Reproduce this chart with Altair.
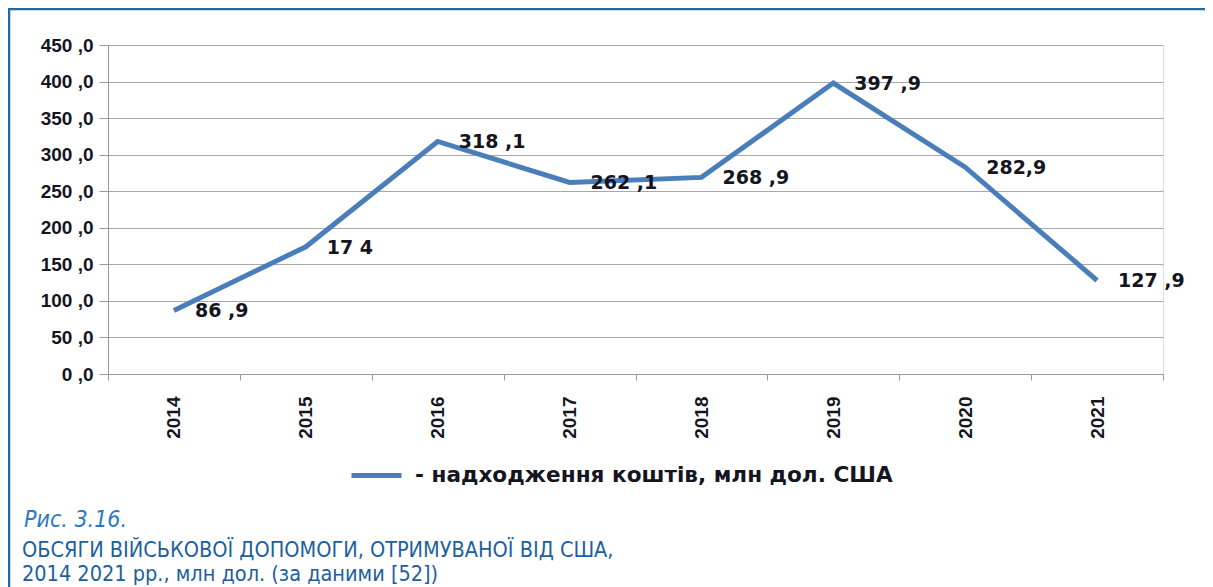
import altair as alt
import pandas as pd

years = ["2014", "2015", "2016", "2017", "2018", "2019", "2020", "2021"]
values = [86.9, 174.0, 318.1, 262.1, 268.9, 397.9, 282.9, 127.9]
labels = ["86 ,9", "17 4", "318 ,1", "262 ,1", "268 ,9", "397 ,9", "282,9", "127 ,9"]
y_ticks = [0, 50, 100, 150, 200, 250, 300, 350, 400, 450]
series_name = "- надходження коштів,  млн дол. США"
caption_lines = [
    "Рис. 3.16.",
    "ОБСЯГИ ВІЙСЬКОВОЇ ДОПОМОГИ, ОТРИМУВАНОЇ ВІД США,",
    "2014 2021 рр., млн дол. (за даними [52])",
]

LINE_COLOR = "#4a7ebb"
TEXT_COLOR = "#15151f"
FRAME_COLOR = "#1f6aa5"
AXFONT = "Liberation Sans, Arial, sans-serif"
CAPFONT = "DejaVu Sans Condensed, DejaVu Sans, sans-serif"

df = pd.DataFrame({"year": years, "value": values, "label": labels,
                   "series": [series_name] * len(years)})

x_enc = alt.X(
    "year:O",
    scale=alt.Scale(type="band", paddingInner=0, paddingOuter=0),
    axis=alt.Axis(
        title=None, labelAngle=270, labelAlign="right", labelBaseline="middle",
        labelPadding=16, tickSize=6, tickColor="#9a9a9a", domainColor="#9a9a9a",
        tickBand="extent", grid=False, labelFont=AXFONT, labelFontSize=19,
        labelFontWeight="bold", labelColor=TEXT_COLOR, labelOverlap=False,
    ),
)
y_enc = alt.Y(
    "value:Q",
    scale=alt.Scale(domain=[0, 450], nice=False, zero=True),
    axis=alt.Axis(
        title=None, values=y_ticks, tickCount=10,
        labelExpr="replace(format(datum.value, '.1f'), '.', ' ,')",
        grid=True, gridColor="#a8a8a8", gridWidth=1.2,
        domainColor="#9a9a9a", tickColor="#9a9a9a", tickSize=9, labelPadding=6,
        labelFont=AXFONT, labelFontSize=19, labelFontWeight="bold",
        labelColor=TEXT_COLOR, labelOverlap=False,
    ),
)

base = alt.Chart(df)

line = base.mark_line(strokeWidth=5).encode(
    x=x_enc,
    y=y_enc,
    color=alt.Color(
        "series:N",
        scale=alt.Scale(range=[LINE_COLOR]),
        legend=alt.Legend(
            title=None, orient="none", legendX=241, legendY=403,
            symbolType="stroke", symbolSize=2500, symbolStrokeWidth=5,
            labelFont="DejaVu Sans", labelFontSize=21.6, labelFontWeight="bold",
            labelColor=TEXT_COLOR, labelLimit=0, labelOffset=11,
        ),
    ),
)

text = base.mark_text(
    align="left", baseline="middle", dx=21, dy=1,
    font="DejaVu Sans", fontSize=19, fontWeight="bold", color=TEXT_COLOR,
).encode(x=x_enc, y=y_enc, text="label:N")

one = pd.DataFrame({"a": [0]})
frame_top = alt.Chart(one).mark_rule(color=FRAME_COLOR, strokeWidth=2.5).encode(
    x=alt.value(-100), x2=alt.value(1097), y=alt.value(-36)
)
frame_left = alt.Chart(one).mark_rule(color=FRAME_COLOR, strokeWidth=2.5).encode(
    x=alt.value(-99), y=alt.value(-37), y2=alt.value(545)
)

cap_df = pd.DataFrame({"t": caption_lines})
cap1 = alt.Chart(cap_df.iloc[[0]]).mark_text(
    align="left", baseline="middle", font=CAPFONT, fontSize=23,
    fontStyle="italic", color="#2b78c0",
).encode(x=alt.value(-84), y=alt.value(475), text="t:N")
cap2 = alt.Chart(cap_df.iloc[[1]]).mark_text(
    align="left", baseline="middle", font=CAPFONT, fontSize=21.5,
    color="#1c5f9e",
).encode(x=alt.value(-86), y=alt.value(506), text="t:N")
cap3 = alt.Chart(cap_df.iloc[[2]]).mark_text(
    align="left", baseline="middle", font=CAPFONT, fontSize=21.5,
    color="#1c5f9e",
).encode(x=alt.value(-86), y=alt.value(530), text="t:N")

chart = alt.layer(line, text, frame_top, frame_left, cap1, cap2, cap3).properties(
    width=1055, height=329,
    autosize=alt.AutoSizeParams(type="none"),
    padding={"left": 100, "top": 37, "right": 42, "bottom": 214},
).configure_view(stroke=None).configure(background="white")

chart.save("out.html", embed_options={"renderer": "svg", "actions": False})
